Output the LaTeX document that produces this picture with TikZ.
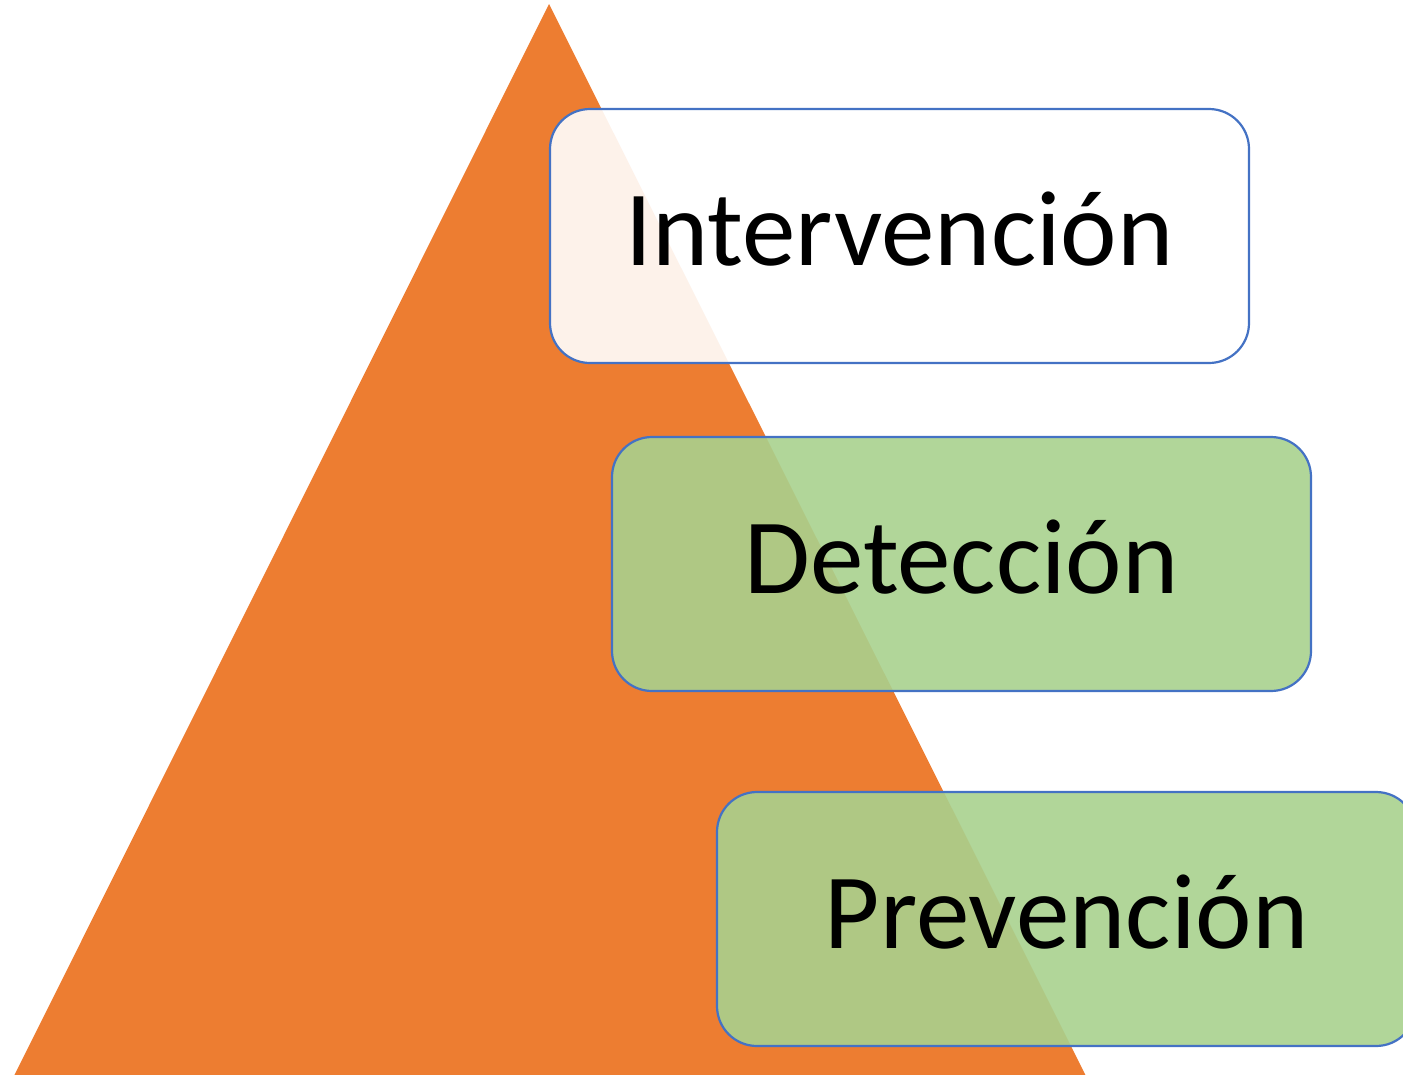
\documentclass[tikz,border=0pt]{standalone}
\usepackage{fontspec}
\setmainfont{Carlito}
\usepackage{xcolor}
\usetikzlibrary{positioning}

\definecolor{pyrorange}{HTML}{ED7D31}
\definecolor{boxblue}{HTML}{4472C4}
\definecolor{boxgreen}{HTML}{A9D18E}

\begin{document}
\begin{tikzpicture}[x=1pt, y=-1pt,
    level/.style={rectangle, draw=boxblue, line width=2.2pt, fill opacity=0.9, text opacity=1, rounded corners=40pt, minimum width=699pt, minimum height=254pt, inner sep=0pt, text depth=14pt, font=\fontsize{107}{128}\selectfont}]

    \useasboundingbox (0,0) rectangle (1403,1074);

    % pyramid
    \fill[pyrorange] (549,4) -- (1090,1084) -- (10,1084) -- cycle;

    \node[level, fill=white] (interv) at (899.5,236) {Intervención};
    \node[level, fill=boxgreen] (detec) at (961.5,564) {Detección};
    \node[level, fill=boxgreen] (prev) at (1066.5,919) {Prevención};
\end{tikzpicture}
\end{document}
